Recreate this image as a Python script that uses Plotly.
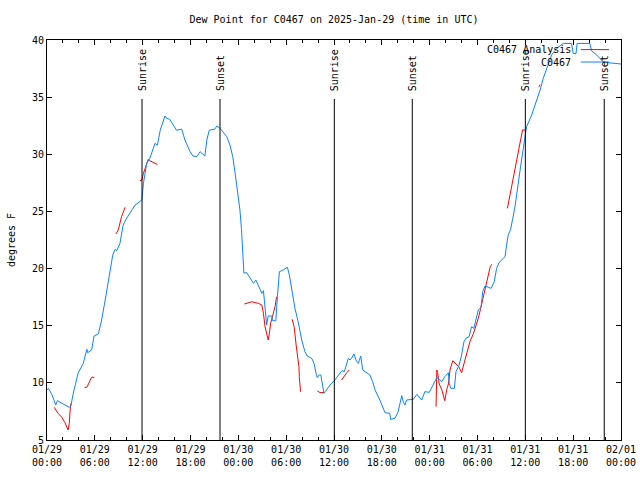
import pandas as pd
import plotly.graph_objects as go

START = pd.Timestamp("2025-01-29 00:00")

# Observed dew point (C0467): hours since 01/29 00:00 UTC, degrees F
obs_hours = [0.0, 0.2, 0.6, 1.1, 1.3, 2.0, 2.8, 3.0, 3.3, 3.9, 4.35, 4.55, 5.0, 5.1, 5.6, 5.9,
             6.45, 6.85, 7.3, 7.7, 8.25, 8.55, 8.75, 9.15, 9.45, 9.55, 9.9, 11.05, 11.65, 11.9,
             12.1, 12.5, 12.9, 13.55, 13.85, 14.2, 14.8, 15.0, 15.4, 16.25, 16.9, 17.3, 17.95,
             18.3, 18.8, 19.2, 19.8, 20.05, 20.35, 21.05, 21.3, 21.7, 22.05, 22.55, 22.95, 23.3,
             23.6, 23.85, 24.2, 24.4, 24.55, 24.7, 25.05, 25.9, 26.2, 26.7, 26.95, 27.15, 27.35,
             27.55, 27.75, 28.2, 28.3, 28.7, 28.9, 29.15, 29.65, 30.15, 30.4, 30.7, 31.1, 31.5,
             31.95, 32.35, 32.65, 33.2, 33.5, 33.75, 33.9, 34.15, 34.35, 34.6, 34.75, 34.9, 35.5,
             36.1, 37.0, 37.3, 37.8, 38.0, 38.2, 38.5, 38.75, 39.05, 39.35, 39.6, 40.1, 40.5,
             40.85, 41.15, 41.75, 42.4, 43.0, 43.1, 43.65, 44.05, 44.5, 44.7, 44.9, 45.1, 45.95,
             46.4, 47.0, 47.4, 47.95, 48.45, 48.9, 49.2, 49.5, 49.9, 50.35, 50.45, 50.65, 51.1,
             51.3, 51.7, 52.0, 52.3, 52.55, 52.95, 53.25, 53.55, 53.9, 54.1, 54.45, 54.65, 54.95,
             55.25, 55.7, 56.1, 56.4, 56.7, 57.45, 57.65, 57.85, 58.15, 58.7, 59.4, 59.85, 60.15,
             60.8, 61.4, 61.85, 62.25, 62.7, 63.3, 63.95, 64.75, 65.8, 66.0, 66.35, 66.5, 68.1,
             68.3, 68.95, 69.35, 69.75, 70.6, 72.0]
obs_values = [9.4, 9.5, 9.0, 8.06, 8.44, 8.2, 7.86, 8.0, 9.1, 10.84, 11.42, 11.7, 12.94, 12.64,
              12.88, 14.1, 14.28, 15.5, 17.25, 19.0, 21.19, 21.69, 21.57, 22.2, 23.4, 23.8, 24.3,
              25.56, 25.85, 26.06, 27.46, 29.2, 29.65, 30.96, 30.8, 32.1, 33.35, 33.15, 33.06,
              32.1, 32.2, 31.25, 30.23, 29.85, 29.8, 30.23, 29.85, 31.25, 32.1, 32.2, 32.47,
              32.27, 31.98, 31.54, 30.81, 29.79, 28.34, 26.88, 25.13, 23.4, 21.63, 19.6, 19.64,
              18.71, 19.0, 18.13, 17.84, 18.07, 16.67, 15.07, 15.85, 15.85, 15.44, 15.44, 17.54,
              19.73, 19.88, 20.11, 19.44, 18.27, 16.52, 15.36, 13.75, 12.73, 12.35, 12.15, 11.7,
              10.84, 10.46, 10.69, 10.69, 9.67, 9.09, 9.23, 9.81, 10.25, 11.07, 10.98, 12.15,
              12.0, 12.15, 12.53, 12.0, 11.7, 12.35, 11.13, 10.84, 10.69, 10.1, 9.38, 8.5, 7.39,
              7.33, 6.8, 6.9, 7.48, 8.88, 8.3, 8.06, 8.5, 8.56, 8.99, 8.5, 9.23, 9.17, 9.81,
              10.46, 10.31, 10.1, 10.54, 10.89, 9.96, 9.52, 9.52, 10.98, 11.56, 12.44, 13.6, 13.9,
              14.04, 14.91, 14.77, 15.73, 16.38, 16.61, 17.98, 18.48, 18.42, 18.27, 18.85, 20.02,
              20.52, 21.04, 22.06, 22.94, 23.4, 25.4, 28.9, 30.96, 32.4, 33.44, 34.6, 35.63,
              36.65, 37.52, 38.69, 39.27, 39.7, 39.7, 38.83, 38.8, 39.7, 39.7, 39.06, 38.69, 38.4,
              38.1, 38.0, 37.9]

# Analysis dew point (C0467 Analysis): segments separated by None
ana_hours = [0.9, 1.4, 1.85, 2.25, 2.65, 2.8, 2.9, 3.0, None,
             4.7, 5.0, 5.2, 5.6, 5.95, None,
             8.65, 8.95, 9.35, 9.8, None,
             11.65, 11.9, 12.1, 12.4, 12.7, 12.9, 13.35, 13.85, None,
             24.75, 25.25, 25.7, 26.1, 26.5, 26.95, 27.15, 27.35, 27.55, 27.75, 27.9, 28.05,
             28.3, 28.6, 28.8, None,
             30.75, 31.0, 31.25, 31.4, 31.6, 31.65, 31.8, None,
             33.9, 34.25, 34.85, None,
             36.95, 37.25, 37.6, 37.9, None,
             48.8, 48.9, 49.0, 49.2, 49.5, 49.7, 49.9, 50.15, 50.35, 50.55, 50.9, 51.3, 51.7,
             52.0, 52.3, 52.65, 53.05, 53.5, 53.8, 54.1, 54.4, 54.65, 54.95, 55.25, 55.6, 55.8,
             None,
             57.75, 58.3, 58.7, 59.1, 59.65, 59.95, None,
             61.7, 61.85]
ana_values = [7.86, 7.33, 6.99, 6.52, 5.88, 6.46, 7.63, 8.2, None,
              9.61, 9.61, 9.9, 10.49, 10.49, None,
              23.03, 23.4, 24.54, 25.36, None,
              27.69, 27.75, 28.34, 29.06, 29.56, 29.44, 29.27, 29.1, None,
              16.9, 17.02, 17.1, 17.02, 16.96, 16.81, 16.08, 14.91, 14.2, 13.75, 14.33, 15.21,
              15.85, 16.67, 17.54, None,
              15.56, 14.91, 13.32, 12.44, 11.42, 10.54, 9.23, None,
              9.29, 9.15, 9.15, None,
              10.25, 10.6, 10.89, 11.13, None,
              7.92, 11.13, 10.89, 9.9, 9.44, 8.85, 8.44, 9.44, 9.9, 11.13, 11.94, 11.65, 11.36,
              10.89, 11.7, 12.59, 13.6, 14.33, 14.91, 15.65, 16.52, 17.25, 18.13, 19.15, 20.17,
              20.38, None,
              25.27, 27.17, 28.63, 30.09, 32.13, 32.13, None,
              35.9, 36.1]

# Sun events (hours since 01/29 00:00 UTC)
sun_labels = ["Sunrise", "Sunset", "Sunrise", "Sunset", "Sunrise", "Sunset"]
sun_hours = [11.92, 21.7, 36.04, 45.82, 60.0, 69.9]

# X ticks every 6 hours
tick_hours = list(range(0, 73, 6))

series_names = ["C0467 Analysis", "C0467"]
series_colors = ["#ff0000", "#0a84ff"]


def to_time(hours):
    return [None if h is None else START + pd.Timedelta(hours=h) for h in hours]


FONT = "DejaVu Sans Mono"

fig = go.Figure()
fig.add_trace(go.Scatter(x=to_time(ana_hours), y=ana_values, mode="lines",
                         name=series_names[0], connectgaps=False,
                         line=dict(color=series_colors[0], width=1)))
fig.add_trace(go.Scatter(x=to_time(obs_hours), y=obs_values, mode="lines",
                         name=series_names[1],
                         line=dict(color=series_colors[1], width=1)))

tick_times = to_time(tick_hours)
tick_text = [t.strftime("%m/%d") + "<br>" + t.strftime("%H:%M") for t in tick_times]

# Sun event lines and labels
for lab, h in zip(sun_labels, sun_hours):
    t = START + pd.Timedelta(hours=h)
    fig.add_shape(type="line", xref="x", yref="y", x0=t, x1=t, y0=5, y1=34.84,
                  line=dict(color="black", width=1))
    fig.add_annotation(x=t, y=35.45, xref="x", yref="y", text=lab, textangle=-90,
                       showarrow=False, xanchor="center", yanchor="bottom",
                       font=dict(family=FONT, size=10, color="black"),
                       borderpad=0)

# Manual legend (text right-aligned, sample line to its right)
leg_y = [0.976, 0.945]
for name, col, yy in zip(series_names, series_colors, leg_y):
    fig.add_annotation(x=0.9146, y=yy, xref="paper", yref="paper", text=name,
                       showarrow=False, xanchor="right", yanchor="middle",
                       font=dict(family=FONT, size=10, color="black"), borderpad=0)
    fig.add_shape(type="line", xref="paper", yref="paper", x0=0.930, x1=0.979,
                  y0=yy, y1=yy, line=dict(color=col, width=1))

fig.update_layout(
    width=640, height=480,
    margin=dict(l=47, r=19, t=40, b=40, autoexpand=False),
    paper_bgcolor="white", plot_bgcolor="white",
    showlegend=False,
    font=dict(family=FONT, size=10, color="black"),
    title=dict(text="Dew Point for C0467 on 2025-Jan-29 (time in UTC)",
               x=0.5, xref="paper", xanchor="center",
               y=1 - 19 / 480, yref="container", yanchor="middle",
               font=dict(family=FONT, size=10, color="black")),
)
fig.update_xaxes(
    type="date", automargin=False,
    range=[START, START + pd.Timedelta(hours=72)],
    tickvals=tick_times, ticktext=tick_text,
    ticks="inside", ticklen=5, tickcolor="black", tickwidth=1,
    minor=dict(ticks="inside", ticklen=3, dtick=2 * 3600 * 1000, tickcolor="black",
               tick0=START, showgrid=False),
    showline=True, linecolor="black", linewidth=1, mirror="ticks",
    showgrid=False, zeroline=False,
    tickfont=dict(family=FONT, size=10),
)
fig.update_yaxes(
    automargin=False,
    range=[5, 40], dtick=5, tick0=5,
    ticks="inside", ticklen=5, tickcolor="black", tickwidth=1,
    showline=True, linecolor="black", linewidth=1, mirror="ticks",
    showgrid=False, zeroline=False,
    title=dict(text="degrees F", font=dict(family=FONT, size=10), standoff=14),
    tickfont=dict(family=FONT, size=10),
)

fig.write_html("out.html", config={"displayModeBar": False},
               post_script="document.body.style.margin='0';document.body.style.overflow='hidden';")
